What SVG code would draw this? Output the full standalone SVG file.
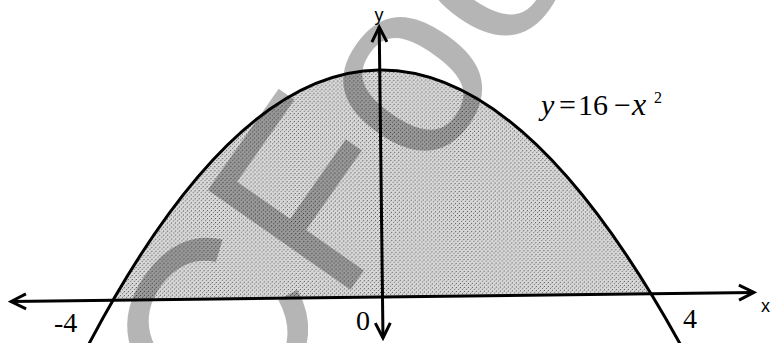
<svg xmlns="http://www.w3.org/2000/svg" width="771" height="343" viewBox="0 0 771 343">
<style>
  .ax { stroke:#000; stroke-width:3; fill:none; }
  .curve { stroke:#000; stroke-width:3; fill:none; }
  .num { font-size:28px; fill:#000; }
  .eq { font-size:30px; fill:#000; }
  .axl { font-size:18px; fill:#000; }
  .wm { font-size:253px; fill:#000; fill-opacity:0.29; }
</style>
<defs>
  <pattern id="stip" width="4" height="4" patternUnits="userSpaceOnUse">
    <rect width="4" height="4" fill="#d8d8d8"/>
    <rect x="0" y="0" width="1" height="1" fill="#505050"/>
    <rect x="2" y="2" width="1" height="1" fill="#707070"/>
    <rect x="3" y="1" width="1" height="1" fill="#b4b4b4"/>
  </pattern>
  <marker id="arr" markerWidth="20" markerHeight="20" refX="0" refY="0" viewBox="-17 -10 20 20" orient="auto-start-reverse" markerUnits="userSpaceOnUse">
    <path d="M -15 -7.5 L 0 0 L -15 7.5" fill="none" stroke="#000" stroke-width="3"/>
  </marker>
</defs>
<rect width="771" height="343" fill="#fff"/>
<g transform="rotate(-0.7 381 297)">
  <g id="region">
    <path d="M 113 297 Q 382 -157 651 297 Z" fill="url(#stip)"/>
  </g>
</g>
<g id="watermark">
  <text class="wm" font-family="'Liberation Sans', Arial, sans-serif" transform="translate(233.7 456.5) rotate(-55)">CFoo</text>
</g>
<g transform="rotate(-0.7 381 297)">
  <g id="axes">
    <line class="ax" x1="11" y1="297" x2="754" y2="297" marker-start="url(#arr)" marker-end="url(#arr)"/>
    <line class="ax" x1="382.5" y1="27" x2="382.5" y2="338" marker-start="url(#arr)" marker-end="url(#arr)"/>
  </g>
  <g id="parabola">
    <path class="curve" d="M 83.2 350 Q 382 -210 680.8 350"/>
  </g>
</g>
<g id="labels">
  <text class="axl" font-family="'Liberation Sans', Arial, sans-serif" x="379" y="21" text-anchor="middle">y</text>
  <text class="axl" font-family="'Liberation Sans', Arial, sans-serif" x="761" y="312">x</text>
  <text class="num" font-family="'Liberation Serif', 'Times New Roman', serif" x="54" y="332">-4</text>
  <text class="num" font-family="'Liberation Serif', 'Times New Roman', serif" x="356" y="330">0</text>
  <text class="num" font-family="'Liberation Serif', 'Times New Roman', serif" x="683" y="328">4</text>
  <text class="eq" font-family="'Liberation Serif', 'Times New Roman', serif" y="115"><tspan x="541" font-style="italic">y</tspan><tspan x="559">=</tspan><tspan x="578">16</tspan><tspan x="614">−</tspan><tspan x="632" font-style="italic" font-size="32">x</tspan><tspan x="654" y="103" font-size="16">2</tspan></text>
</g>
</svg>
